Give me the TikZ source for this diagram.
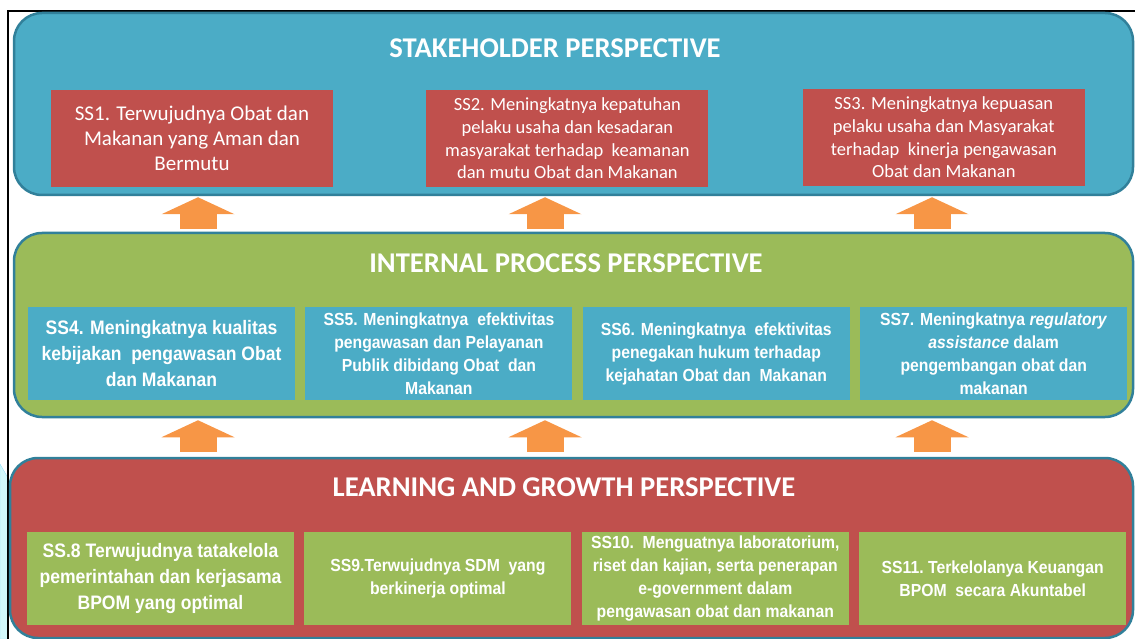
\documentclass[tikz,border=0pt]{standalone}
\usepackage{fontspec}
\setmainfont{Carlito}
\newfontfamily\boxfont[FakeStretch=0.9]{Liberation Sans}
\usetikzlibrary{arrows.meta,positioning}

\definecolor{panelblue}{HTML}{4BACC6}
\definecolor{paneledge}{HTML}{31809A}
\definecolor{panelred}{HTML}{C0504D}
\definecolor{panelgreen}{HTML}{9BBB59}
\definecolor{arroworange}{HTML}{F79646}
\definecolor{sidecyan}{HTML}{D2F8FB}

\begin{document}
\begin{tikzpicture}[
    x=1pt, y=-1pt,
    node distance=93pt and 10pt,
    panel/.style={draw=paneledge, line width=2.5pt, rounded corners=28pt, inner sep=0pt},
    title/.style={text=white, font=\fontsize{28.6}{30}\selectfont\bfseries},
    redbox/.style={fill=panelred, text=white, inner sep=0pt, minimum width=282pt, minimum height=97pt, align=center, font=\fontsize{18.5}{22.7}\selectfont},
    goalbox/.style={text=white, inner sep=0pt, minimum width=267pt, minimum height=93pt, align=center, font=\boxfont\bfseries\fontsize{17.5}{23}\selectfont},
    bigtext/.style={font=\boxfont\bfseries\fontsize{19.5}{25.8}\selectfont},
    uparrow/.style={draw=arroworange, line width=37pt, -{Triangle[width=73pt, length=17pt, line width=0pt]}},
]
    \useasboundingbox (0,0) rectangle (1135,639);
    \fill[sidecyan, draw=cyan!40] (0,464) -- (8,478) -- (8,639) -- (0,639) -- cycle;
    \draw[line width=1.6pt] (8,639) -- (8,11) -- (1135,11);

    % perspectives
    \node[panel, fill=panelblue, minimum width=1119pt, minimum height=182pt] (stake) at (573.5,104) {};
    \node[panel, fill=panelgreen, minimum width=1119pt, minimum height=184pt] (proc) at (573.5,325) {};
    \node[panel, fill=panelred, minimum width=1123pt, minimum height=180pt] (learn) at (571.5,548) {};

    \node[title] (stakeTitle) at (555,48) {STAKEHOLDER PERSPECTIVE};
    \node[title] (procTitle) at (566,263) {INTERNAL PROCESS PERSPECTIVE};
    \node[title] (learnTitle) at (564,487) {LEARNING AND GROWTH PERSPECTIVE};

    % stakeholder
    \node[redbox, font=\fontsize{21}{25}\selectfont] (ss1) at (192,138.5) {SS1. Terwujudnya Obat dan\\Makanan yang Aman dan\\Bermutu};
    \node[redbox, right=93pt of ss1] (ss2) {SS2. Meningkatnya kepatuhan\\pelaku usaha dan kesadaran\\masyarakat terhadap\ \ keamanan\\dan mutu Obat dan Makanan};
    \node[redbox, right=94pt of ss2, yshift=1pt] (ss3) {SS3. Meningkatnya kepuasan\\pelaku usaha dan Masyarakat\\terhadap\ \ kinerja pengawasan\\Obat dan Makanan};

    % internal process
    \node[goalbox, bigtext, fill=panelblue] (ss4) at (161.5,353.5) {SS4. Meningkatnya kualitas\\kebijakan\ \ pengawasan Obat\\dan Makanan};
    \node[goalbox, fill=panelblue, right=of ss4] (ss5) {SS5. Meningkatnya\ \ efektivitas\\pengawasan dan Pelayanan\\Publik dibidang Obat\ \ dan\\Makanan};
    \node[goalbox, fill=panelblue, right=of ss5] (ss6) {SS6. Meningkatnya\ \ efektivitas\\penegakan hukum terhadap\\kejahatan Obat dan\ \ Makanan};
    \node[goalbox, fill=panelblue, right=of ss6] (ss7) {SS7. Meningkatnya \textit{regulatory}\\\textit{assistance} dalam\\pengembangan obat dan\\makanan};

    % learning and growth
    \node[goalbox, bigtext, fill=panelgreen] (ss8) at (160.5,578.5) {SS.8 Terwujudnya tatakelola\\pemerintahan dan kerjasama\\BPOM yang optimal};
    \node[goalbox, fill=panelgreen, right=of ss8] (ss9) {SS9.Terwujudnya SDM\ \ yang\\berkinerja optimal};
    \node[goalbox, fill=panelgreen, right=of ss9] (ss10) {SS10.\ \ Menguatnya laboratorium,\\riset dan kajian, serta penerapan\\e-government dalam\\pengawasan obat dan makanan};
    \node[goalbox, fill=panelgreen, right=of ss10] (ss11) {SS11.\ Terkelolanya Keuangan\\BPOM\ \ secara Akuntabel};

    % arrows between perspectives
    \coordinate (a1) at (198,0);
    \coordinate (a2) at (545,0);
    \coordinate (a3) at (932,0);
    \foreach \c in {a1,a2,a3} {
        \draw[uparrow, shorten <=3pt, shorten >=1pt] (proc.north -| \c) -- (stake.south -| \c);
        \draw[uparrow, shorten <=5pt, shorten >=2pt] (learn.north -| \c) -- (proc.south -| \c);
    }
\end{tikzpicture}
\end{document}
